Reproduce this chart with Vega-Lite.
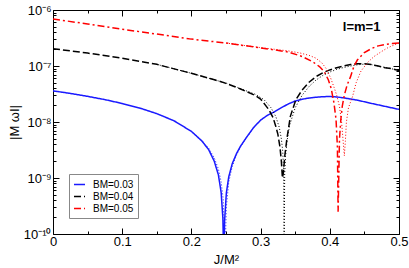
{
  "$schema": "https://vega.github.io/schema/vega-lite/v6.json",
  "width": 346,
  "height": 224,
  "autosize": "none",
  "padding": {"left": 53, "top": 10, "right": 10, "bottom": 34},
  "background": "white",
  "config": {
    "view": {"stroke": "#000", "strokeWidth": 1},
    "font": "Liberation Sans",
    "axis": {"labelFont": "Liberation Sans", "titleFont": "Liberation Sans", "labelColor": "#000", "titleColor": "#000", "tickColor": "#000", "domain": false, "grid": false, "labelFontSize": 13, "titleFontSize": 13, "titleFontWeight": "normal", "labelOverlap": false, "labelFlush": false}
  },
  "datasets": {
    "curves": [
      {"s":"BM=0.03","k":"n","x":0,"y":3.6e-8},{"s":"BM=0.03","k":"n","x":0.025,"y":3.24e-8},{"s":"BM=0.03","k":"n","x":0.05,"y":2.87e-8},{"s":"BM=0.03","k":"n","x":0.075,"y":2.51e-8},{"s":"BM=0.03","k":"n","x":0.1,"y":2.14e-8},{"s":"BM=0.03","k":"n","x":0.125,"y":1.78e-8},{"s":"BM=0.03","k":"n","x":0.15,"y":1.41e-8},{"s":"BM=0.03","k":"n","x":0.175,"y":1.05e-8},{"s":"BM=0.03","k":"n","x":0.2,"y":6.8e-9},{"s":"BM=0.03","k":"n","x":0.215,"y":4.6e-9},{"s":"BM=0.03","k":"n","x":0.225,"y":3.2e-9},{"s":"BM=0.03","k":"n","x":0.233,"y":2.0e-9},{"s":"BM=0.03","k":"n","x":0.239,"y":1.14e-9},{"s":"BM=0.03","k":"n","x":0.243,"y":5.5e-10},{"s":"BM=0.03","k":"n","x":0.2455,"y":1.9e-10},{"s":"BM=0.03","k":"n","x":0.2468,"y":3e-11},{"s":"BM=0.03","k":"n","x":0.248,"y":1.75e-10},{"s":"BM=0.03","k":"n","x":0.2505,"y":5.4e-10},{"s":"BM=0.03","k":"n","x":0.254,"y":1.05e-9},{"s":"BM=0.03","k":"n","x":0.259,"y":1.8e-9},{"s":"BM=0.03","k":"n","x":0.265,"y":2.7e-9},{"s":"BM=0.03","k":"n","x":0.271,"y":3.7e-9},{"s":"BM=0.03","k":"n","x":0.28,"y":5.4e-9},{"s":"BM=0.03","k":"n","x":0.29,"y":8.0e-9},{"s":"BM=0.03","k":"n","x":0.3,"y":1.08e-8},{"s":"BM=0.03","k":"n","x":0.31,"y":1.32e-8},{"s":"BM=0.03","k":"n","x":0.32,"y":1.52e-8},{"s":"BM=0.03","k":"n","x":0.33,"y":1.8e-8},{"s":"BM=0.03","k":"n","x":0.34,"y":2.1e-8},{"s":"BM=0.03","k":"n","x":0.35,"y":2.37e-8},{"s":"BM=0.03","k":"n","x":0.36,"y":2.55e-8},{"s":"BM=0.03","k":"n","x":0.37,"y":2.68e-8},{"s":"BM=0.03","k":"n","x":0.38,"y":2.77e-8},{"s":"BM=0.03","k":"n","x":0.39,"y":2.83e-8},{"s":"BM=0.03","k":"n","x":0.4,"y":2.85e-8},{"s":"BM=0.03","k":"n","x":0.41,"y":2.8e-8},{"s":"BM=0.03","k":"n","x":0.42,"y":2.7e-8},{"s":"BM=0.03","k":"n","x":0.44,"y":2.45e-8},{"s":"BM=0.03","k":"n","x":0.46,"y":2.15e-8},{"s":"BM=0.03","k":"n","x":0.48,"y":1.9e-8},{"s":"BM=0.03","k":"n","x":0.5,"y":1.68e-8},
      {"s":"BM=0.03","k":"a","x":0.2,"y":6.8e-9},{"s":"BM=0.03","k":"a","x":0.215,"y":4.7e-9},{"s":"BM=0.03","k":"a","x":0.225,"y":3.4e-9},{"s":"BM=0.03","k":"a","x":0.233,"y":2.3e-9},{"s":"BM=0.03","k":"a","x":0.239,"y":1.45e-9},{"s":"BM=0.03","k":"a","x":0.243,"y":8.5e-10},{"s":"BM=0.03","k":"a","x":0.246,"y":4.2e-10},{"s":"BM=0.03","k":"a","x":0.2485,"y":4e-11},{"s":"BM=0.03","k":"a","x":0.2505,"y":3e-10},{"s":"BM=0.03","k":"a","x":0.254,"y":8.5e-10},{"s":"BM=0.03","k":"a","x":0.259,"y":1.6e-9},{"s":"BM=0.03","k":"a","x":0.265,"y":2.55e-9},{"s":"BM=0.03","k":"a","x":0.271,"y":3.6e-9},{"s":"BM=0.03","k":"a","x":0.28,"y":5.3e-9},{"s":"BM=0.03","k":"a","x":0.29,"y":7.9e-9},{"s":"BM=0.03","k":"a","x":0.3,"y":1.07e-8},
      {"s":"BM=0.04","k":"n","x":0,"y":2.04e-7},{"s":"BM=0.04","k":"n","x":0.05,"y":1.7e-7},{"s":"BM=0.04","k":"n","x":0.1,"y":1.38e-7},{"s":"BM=0.04","k":"n","x":0.15,"y":1.07e-7},{"s":"BM=0.04","k":"n","x":0.184,"y":8.32e-8},{"s":"BM=0.04","k":"n","x":0.2,"y":7.41e-8},{"s":"BM=0.04","k":"n","x":0.232,"y":5.75e-8},{"s":"BM=0.04","k":"n","x":0.25,"y":4.9e-8},{"s":"BM=0.04","k":"n","x":0.271,"y":3.89e-8},{"s":"BM=0.04","k":"n","x":0.293,"y":2.95e-8},{"s":"BM=0.04","k":"n","x":0.3,"y":2.57e-8},{"s":"BM=0.04","k":"n","x":0.312,"y":1.66e-8},{"s":"BM=0.04","k":"n","x":0.318,"y":1.2e-8},{"s":"BM=0.04","k":"n","x":0.322,"y":8.32e-9},{"s":"BM=0.04","k":"n","x":0.325,"y":6.03e-9},{"s":"BM=0.04","k":"n","x":0.328,"y":3.55e-9},{"s":"BM=0.04","k":"n","x":0.33,"y":2.0e-9},{"s":"BM=0.04","k":"n","x":0.3315,"y":1.0e-9},{"s":"BM=0.04","k":"n","x":0.333,"y":1.26e-9},{"s":"BM=0.04","k":"n","x":0.335,"y":2.51e-9},{"s":"BM=0.04","k":"n","x":0.338,"y":5.01e-9},{"s":"BM=0.04","k":"n","x":0.343,"y":1.26e-8},{"s":"BM=0.04","k":"n","x":0.351,"y":2.51e-8},{"s":"BM=0.04","k":"n","x":0.36,"y":3.72e-8},{"s":"BM=0.04","k":"n","x":0.37,"y":5.13e-8},{"s":"BM=0.04","k":"n","x":0.38,"y":6.46e-8},{"s":"BM=0.04","k":"n","x":0.39,"y":7.59e-8},{"s":"BM=0.04","k":"n","x":0.4,"y":8.51e-8},{"s":"BM=0.04","k":"n","x":0.41,"y":9.33e-8},{"s":"BM=0.04","k":"n","x":0.42,"y":1.0e-7},{"s":"BM=0.04","k":"n","x":0.43,"y":1.06e-7},{"s":"BM=0.04","k":"n","x":0.44,"y":1.1e-7},{"s":"BM=0.04","k":"n","x":0.45,"y":1.1e-7},{"s":"BM=0.04","k":"n","x":0.46,"y":1.06e-7},{"s":"BM=0.04","k":"n","x":0.47,"y":1.0e-7},{"s":"BM=0.04","k":"n","x":0.48,"y":9.33e-8},{"s":"BM=0.04","k":"n","x":0.49,"y":8.91e-8},{"s":"BM=0.04","k":"n","x":0.5,"y":8.32e-8},
      {"s":"BM=0.04","k":"a","x":0.15,"y":1.07e-7},{"s":"BM=0.04","k":"a","x":0.2,"y":7.41e-8},{"s":"BM=0.04","k":"a","x":0.25,"y":4.95e-8},{"s":"BM=0.04","k":"a","x":0.271,"y":3.95e-8},{"s":"BM=0.04","k":"a","x":0.293,"y":3.1e-8},{"s":"BM=0.04","k":"a","x":0.305,"y":2.5e-8},{"s":"BM=0.04","k":"a","x":0.315,"y":1.8e-8},{"s":"BM=0.04","k":"a","x":0.322,"y":1.25e-8},{"s":"BM=0.04","k":"a","x":0.327,"y":8.0e-9},{"s":"BM=0.04","k":"a","x":0.33,"y":5.0e-9},{"s":"BM=0.04","k":"a","x":0.332,"y":3.0e-9},{"s":"BM=0.04","k":"a","x":0.3333,"y":1.3e-9},{"s":"BM=0.04","k":"a","x":0.334,"y":5e-11},{"s":"BM=0.04","k":"a","x":0.3348,"y":1.2e-9},{"s":"BM=0.04","k":"a","x":0.336,"y":2.4e-9},{"s":"BM=0.04","k":"a","x":0.338,"y":4.4e-9},{"s":"BM=0.04","k":"a","x":0.342,"y":8.8e-9},{"s":"BM=0.04","k":"a","x":0.35,"y":1.8e-8},{"s":"BM=0.04","k":"a","x":0.36,"y":3.0e-8},{"s":"BM=0.04","k":"a","x":0.37,"y":4.3e-8},{"s":"BM=0.04","k":"a","x":0.38,"y":5.6e-8},{"s":"BM=0.04","k":"a","x":0.39,"y":6.8e-8},{"s":"BM=0.04","k":"a","x":0.4,"y":7.8e-8},{"s":"BM=0.04","k":"a","x":0.41,"y":8.7e-8},{"s":"BM=0.04","k":"a","x":0.42,"y":9.4e-8},{"s":"BM=0.04","k":"a","x":0.43,"y":1.0e-7},{"s":"BM=0.04","k":"a","x":0.44,"y":1.05e-7},{"s":"BM=0.04","k":"a","x":0.45,"y":1.08e-7},{"s":"BM=0.04","k":"a","x":0.46,"y":1.06e-7},{"s":"BM=0.04","k":"a","x":0.48,"y":9.4e-8},{"s":"BM=0.04","k":"a","x":0.5,"y":8.4e-8},
      {"s":"BM=0.05","k":"n","x":0,"y":6.92e-7},{"s":"BM=0.05","k":"n","x":0.05,"y":5.62e-7},{"s":"BM=0.05","k":"n","x":0.1,"y":4.52e-7},{"s":"BM=0.05","k":"n","x":0.15,"y":3.72e-7},{"s":"BM=0.05","k":"n","x":0.2,"y":3.02e-7},{"s":"BM=0.05","k":"n","x":0.25,"y":2.57e-7},{"s":"BM=0.05","k":"n","x":0.3,"y":2.11e-7},{"s":"BM=0.05","k":"n","x":0.34,"y":1.78e-7},{"s":"BM=0.05","k":"n","x":0.36,"y":1.48e-7},{"s":"BM=0.05","k":"n","x":0.375,"y":1.2e-7},{"s":"BM=0.05","k":"n","x":0.385,"y":9.77e-8},{"s":"BM=0.05","k":"n","x":0.392,"y":7.94e-8},{"s":"BM=0.05","k":"n","x":0.398,"y":5.62e-8},{"s":"BM=0.05","k":"n","x":0.402,"y":3.98e-8},{"s":"BM=0.05","k":"n","x":0.406,"y":2.19e-8},{"s":"BM=0.05","k":"n","x":0.409,"y":1.12e-8},{"s":"BM=0.05","k":"n","x":0.411,"y":3.55e-9},{"s":"BM=0.05","k":"n","x":0.412,"y":2.51e-10},{"s":"BM=0.05","k":"n","x":0.414,"y":5.01e-9},{"s":"BM=0.05","k":"n","x":0.416,"y":1.12e-8},{"s":"BM=0.05","k":"n","x":0.418,"y":1.91e-8},{"s":"BM=0.05","k":"n","x":0.421,"y":3.02e-8},{"s":"BM=0.05","k":"n","x":0.425,"y":4.57e-8},{"s":"BM=0.05","k":"n","x":0.43,"y":6.46e-8},{"s":"BM=0.05","k":"n","x":0.435,"y":1.0e-7},{"s":"BM=0.05","k":"n","x":0.44,"y":1.29e-7},{"s":"BM=0.05","k":"n","x":0.45,"y":1.74e-7},{"s":"BM=0.05","k":"n","x":0.46,"y":2.04e-7},{"s":"BM=0.05","k":"n","x":0.47,"y":2.29e-7},{"s":"BM=0.05","k":"n","x":0.48,"y":2.43e-7},{"s":"BM=0.05","k":"n","x":0.49,"y":2.51e-7},{"s":"BM=0.05","k":"n","x":0.5,"y":2.57e-7},
      {"s":"BM=0.05","k":"a","x":0.25,"y":2.57e-7},{"s":"BM=0.05","k":"a","x":0.3,"y":2.13e-7},{"s":"BM=0.05","k":"a","x":0.34,"y":1.86e-7},{"s":"BM=0.05","k":"a","x":0.356,"y":1.72e-7},{"s":"BM=0.05","k":"a","x":0.37,"y":1.55e-7},{"s":"BM=0.05","k":"a","x":0.38,"y":1.38e-7},{"s":"BM=0.05","k":"a","x":0.389,"y":1.12e-7},{"s":"BM=0.05","k":"a","x":0.395,"y":8.9e-8},{"s":"BM=0.05","k":"a","x":0.401,"y":6.2e-8},{"s":"BM=0.05","k":"a","x":0.406,"y":4.2e-8},{"s":"BM=0.05","k":"a","x":0.41,"y":3.0e-8},{"s":"BM=0.05","k":"a","x":0.414,"y":1.9e-8},{"s":"BM=0.05","k":"a","x":0.417,"y":1.0e-8},{"s":"BM=0.05","k":"a","x":0.419,"y":5.0e-9},{"s":"BM=0.05","k":"a","x":0.421,"y":2.5e-9},{"s":"BM=0.05","k":"a","x":0.4225,"y":4.5e-9},{"s":"BM=0.05","k":"a","x":0.424,"y":1.0e-8},{"s":"BM=0.05","k":"a","x":0.427,"y":1.8e-8},{"s":"BM=0.05","k":"a","x":0.433,"y":2.88e-8},{"s":"BM=0.05","k":"a","x":0.438,"y":5.0e-8},{"s":"BM=0.05","k":"a","x":0.445,"y":8.1e-8},{"s":"BM=0.05","k":"a","x":0.455,"y":1.17e-7},{"s":"BM=0.05","k":"a","x":0.464,"y":1.48e-7},{"s":"BM=0.05","k":"a","x":0.475,"y":1.82e-7},{"s":"BM=0.05","k":"a","x":0.483,"y":2.09e-7},{"s":"BM=0.05","k":"a","x":0.49,"y":2.29e-7},{"s":"BM=0.05","k":"a","x":0.5,"y":2.57e-7}
    ],
    "note": [{"x": 0.446, "y": 5e-7, "t": "l=m=1"}]
  },
  "resolve": {"axis": {"x": "independent", "y": "independent"}},
  "layer": [
    {
      "data": {"name": "curves"},
      "transform": [{"filter": "datum.k == 'n'"}],
      "mark": {"type": "line", "clip": true, "strokeWidth": 1.5},
      "encoding": {
        "x": {"field": "x", "type": "quantitative",
          "scale": {"domain": [0, 0.5], "nice": false, "zero": false},
          "axis": {"orient": "bottom", "title": "J/M²", "titlePadding": 2,
            "values": [0, 0.05, 0.1, 0.15, 0.2, 0.25, 0.3, 0.35, 0.4, 0.45, 0.5],
            "labelExpr": "datum.value == 0 ? '0' : (indexof([0.1,0.2,0.3,0.4,0.5], datum.value) >= 0 ? format(datum.value, '.1f') : '')",
            "tickSize": {"condition": {"test": "indexof([0,0.1,0.2,0.3,0.4,0.5], datum.value) >= 0", "value": -6}, "value": -3},
            "labelPadding": 7}},
        "y": {"field": "y", "type": "quantitative",
          "scale": {"type": "log", "domain": [1e-10, 1e-6], "nice": false},
          "axis": {"orient": "left", "title": "|M ωI|", "titlePadding": 2,
            "values": [1e-10,2e-10,3e-10,4e-10,5e-10,6e-10,7e-10,8e-10,9e-10,1e-9,2e-9,3e-9,4e-9,5e-9,6e-9,7e-9,8e-9,9e-9,1e-8,2e-8,3e-8,4e-8,5e-8,6e-8,7e-8,8e-8,9e-8,1e-7,2e-7,3e-7,4e-7,5e-7,6e-7,7e-7,8e-7,9e-7,1e-6],
            "labelExpr": "datum.value == 1e-10 ? '10⁻¹⁰' : datum.value == 1e-9 ? '10⁻⁹' : datum.value == 1e-8 ? '10⁻⁸' : datum.value == 1e-7 ? '10⁻⁷' : datum.value == 1e-6 ? '10⁻⁶' : ''",
            "tickSize": {"condition": {"test": "datum.value == 1e-10 || datum.value == 1e-9 || datum.value == 1e-8 || datum.value == 1e-7 || datum.value == 1e-6", "value": -6}, "value": -3},
            "labelPadding": 8}},
        "color": {"field": "s", "type": "nominal",
          "scale": {"domain": ["BM=0.03", "BM=0.04", "BM=0.05"], "range": ["#1a1aff", "#000000", "#ff0000"]},
          "legend": {"orient": "bottom-left", "offset": 16, "title": null, "strokeColor": "#888", "fillColor": "white", "padding": 4, "labelFontSize": 10, "labelFont": "Liberation Sans", "symbolType": "stroke", "symbolSize": 121, "symbolStrokeWidth": 1.5, "rowPadding": 0, "labelOffset": 7}},
        "strokeDash": {"field": "s", "type": "nominal",
          "scale": {"domain": ["BM=0.03", "BM=0.04", "BM=0.05"], "range": [[1, 0], [7, 3], [7, 3, 2, 3]]},
          "legend": {"orient": "bottom-left", "offset": 16, "title": null, "strokeColor": "#888", "fillColor": "white", "padding": 4, "labelFontSize": 10, "labelFont": "Liberation Sans", "symbolType": "stroke", "symbolSize": 121, "symbolStrokeWidth": 1.5, "rowPadding": 0, "labelOffset": 7}}
      }
    },
    {
      "data": {"name": "curves"},
      "transform": [{"filter": "datum.k == 'a'"}],
      "mark": {"type": "line", "clip": true, "strokeWidth": 1, "strokeDash": [1, 2]},
      "encoding": {
        "x": {"field": "x", "type": "quantitative", "axis": null},
        "y": {"field": "y", "type": "quantitative", "axis": null},
        "color": {"field": "s", "type": "nominal", "legend": null}
      }
    },
    {
      "data": {"name": "note"},
      "mark": {"type": "text", "fontSize": 13, "fontWeight": "bold", "font": "Liberation Sans", "color": "#000"},
      "encoding": {
        "x": {"field": "x", "type": "quantitative",
          "axis": {"orient": "top", "title": null, "labels": false,
            "values": [0, 0.05, 0.1, 0.15, 0.2, 0.25, 0.3, 0.35, 0.4, 0.45, 0.5],
            "tickSize": {"condition": {"test": "indexof([0,0.1,0.2,0.3,0.4,0.5], datum.value) >= 0", "value": -6}, "value": -3}}},
        "y": {"field": "y", "type": "quantitative",
          "axis": {"orient": "right", "title": null, "labels": false,
            "values": [1e-10,2e-10,3e-10,4e-10,5e-10,6e-10,7e-10,8e-10,9e-10,1e-9,2e-9,3e-9,4e-9,5e-9,6e-9,7e-9,8e-9,9e-9,1e-8,2e-8,3e-8,4e-8,5e-8,6e-8,7e-8,8e-8,9e-8,1e-7,2e-7,3e-7,4e-7,5e-7,6e-7,7e-7,8e-7,9e-7,1e-6],
            "tickSize": {"condition": {"test": "datum.value == 1e-10 || datum.value == 1e-9 || datum.value == 1e-8 || datum.value == 1e-7 || datum.value == 1e-6", "value": -6}, "value": -3}}},
        "text": {"field": "t"}
      }
    }
  ]
}
